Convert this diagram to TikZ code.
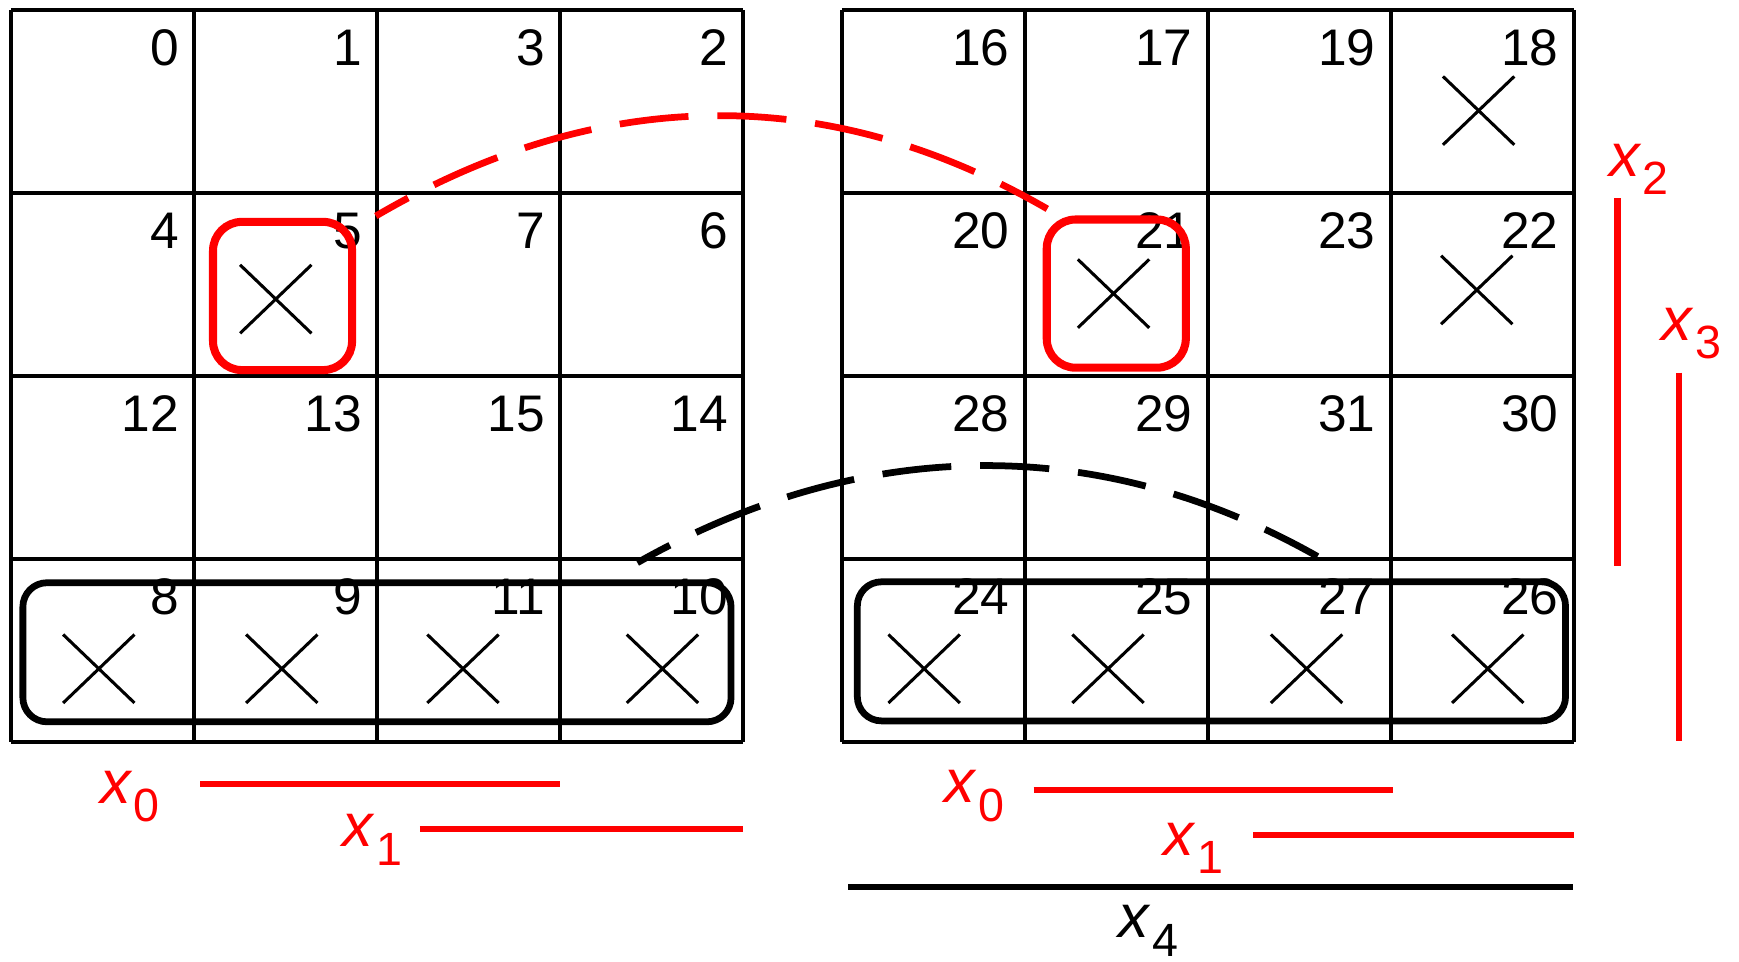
\documentclass[tikz,border=0pt]{standalone}
\usepackage{fontspec}
\setmainfont{Liberation Sans}
\usepackage{tikz}
\usetikzlibrary{calc}

% variable label: italic x with a lowered digit
\newcommand{\xvar}[1]{{\fontsize{19}{23}\selectfont\itshape x}\kern1pt\raisebox{-5.7pt}{\fontsize{14.5}{17}\selectfont #1}}

\tikzset{
  gridline/.style={line width=1.25pt},
  cellnum/.style={anchor=base east, inner sep=0pt, font=\fontsize{16}{19}\selectfont},
  cross/.style={line width=0.95pt},
  redbox/.style={draw=red, line width=2.5pt, rounded corners=9pt, minimum width=1.52cm, minimum height=1.62cm, inner sep=0pt},
  rowbox/.style={draw=black, line width=2.1pt, rounded corners=7.5pt, minimum width=7.74cm, minimum height=1.52cm, inner sep=0pt},
  arcline/.style={line width=2.1pt, dash pattern=on 21.5pt off 9pt, dash phase=10pt},
  bar/.style={red, line width=1.9pt},
  varlabel/.style={anchor=base west, inner sep=0pt, text=red}
}

\begin{document}
\begin{tikzpicture}[x=2cm, y=2cm]
    \useasboundingbox (0,0) rectangle (9.503,5.2545);

    % Two maps: x4 = 0 on the left, x4 = 1 on the right
    \foreach \gx/\off/\side in {0.06/0/L, 4.6/16/R} {
        \foreach \i in {0,...,4} {
            \draw[gridline] (\gx+\i,1.2) -- (\gx+\i,5.2);
            \draw[gridline] (\gx,1.2+\i) -- (\gx+4,1.2+\i);
        }
        \foreach \r/\rv in {0/0,1/4,2/12,3/8}
            \foreach \c/\cv in {0/0,1/1,2/3,3/2} {
                \pgfmathtruncatemacro{\n}{\off+\rv+\cv}
                \node[cellnum] (\side\n) at (\gx+\c+0.92, 4.895-\r) {\n};
            }
    }

    % Marked cells
    \foreach \x/\y in {1.507/3.62, 0.54/1.60, 1.54/1.60, 2.53/1.60, 3.62/1.60,
                       8.08/4.65, 6.085/3.65, 8.07/3.67,
                       5.05/1.60, 6.055/1.60, 7.14/1.60, 8.13/1.60}
        \draw[cross] (\x-0.195,\y-0.187) -- (\x+0.195,\y+0.187)
                     (\x-0.195,\y+0.187) -- (\x+0.195,\y-0.187);

    % Groups
    \node[redbox] (box5) at (1.544,3.637) {};
    \node[redbox] (box21) at (6.1,3.65) {};
    \node[rowbox] (rowL) at (2.06,1.69) {};
    \node[rowbox] (rowR) at (6.62,1.695) {};

    % Adjacent across the two maps
    \draw[arcline, red] ($(box5.north east)+(0.108,0.01)$) .. controls +(1.21,0.71) and +(-1.21,0.70) .. ($(box21.north west)+(0.025,0.036)$);
    \draw[arcline, black] ($(rowL.north)+(1.423,0.091)$) .. controls +(1.21,0.684) and +(-1.21,0.685) .. ($(rowR.north)+(0.58,0.12)$);

    % Variable bars, left map
    \draw[bar] (1.093,0.972) -- (3.06,0.972);
    \node[varlabel] (x0L) at (0.543,0.864) {\xvar{0}};
    \draw[bar] (2.295,0.722) -- (4.06,0.722);
    \node[varlabel] (x1L) at (1.867,0.627) {\xvar{1}};

    % Variable bars, right map
    \draw[bar] (5.648,0.935) -- (7.61,0.935);
    \node[varlabel] (x0R) at (5.16,0.868) {\xvar{0}};
    \draw[bar] (6.848,0.69) -- (8.6,0.69);
    \node[varlabel] (x1R) at (6.357,0.58) {\xvar{1}};
    \draw[bar] (8.839,4.171) -- (8.839,2.164);
    \node[varlabel] (x2) at (8.79,4.289) {\xvar{2}};
    \draw[bar] (9.176,3.218) -- (9.176,1.206);
    \node[varlabel] (x3) at (9.076,3.393) {\xvar{3}};

    % x4 covers the whole right map
    \draw[line width=1.9pt] (4.636,0.409) -- (8.594,0.409);
    \node[varlabel, text=black] (x4) at (6.109,0.13) {\xvar{4}};
\end{tikzpicture}
\end{document}
